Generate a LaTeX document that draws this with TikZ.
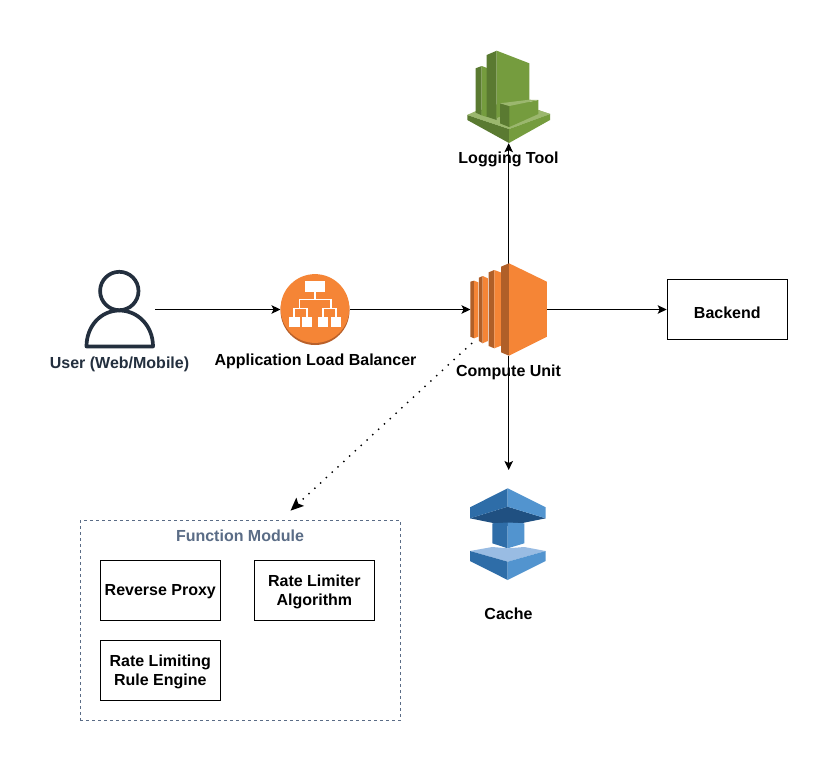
\documentclass[tikz,border=0pt]{standalone}
\usepackage{fontspec}
\setmainfont{Liberation Sans}
\usetikzlibrary{arrows.meta}
\definecolor{ink}{HTML}{232F3E}
\definecolor{slate}{HTML}{5A6C86}
\definecolor{orangeM}{HTML}{F58536}
\definecolor{orangeD}{HTML}{B05F28}
\definecolor{orangeS}{HTML}{B9602A}
\definecolor{greenM}{HTML}{759C3E}
\definecolor{greenD}{HTML}{4B612C}
\definecolor{greenS}{HTML}{5A7A31}
\definecolor{greenL}{HTML}{9BB76E}
\definecolor{greenB}{HTML}{86A853}
\definecolor{blueL}{HTML}{2E6DA8}
\definecolor{blueR}{HTML}{5294CF}
\definecolor{blueD}{HTML}{205081}
\definecolor{blueT}{HTML}{99BCE3}
\newcommand{\firstline}{\rule{0pt}{14.6pt}}
\tikzset{
  x=1pt,y=-1pt,
  conn/.style={draw=black,line width=1.2pt,-{Stealth[length=9pt,width=8.5pt,inset=2pt]}},
  dots/.style={draw=black,line width=2pt,line cap=round,dash pattern=on 0pt off 7.9pt,
    -{Stealth[length=13pt,width=11pt,inset=2.5pt]}},
  iconbox/.style={inner sep=0pt,outer sep=0pt,draw=none},
  lbl/.style={font=\bfseries\fontsize{16}{19.5}\selectfont,text=black,inner sep=0pt,text height=11.6pt,text depth=3.4pt},
  boxed/.style={draw=black,line width=1.2pt,fill=white,minimum width=120pt,minimum height=60pt,inner sep=0pt,
    align=center,font=\bfseries\fontsize{16}{19.5}\selectfont},
  modulebox/.style={draw=slate,line width=1.1pt,dash pattern=on 3pt off 3pt,minimum width=320.4pt,minimum height=199.6pt,inner sep=0pt},
}
\begin{document}
\begin{tikzpicture}
\useasboundingbox (0,0) rectangle (838,771);
\fill[white] (0,0) rectangle (838,771);

% invisible anchors of the icons
\node[iconbox,minimum width=70pt,minimum height=10pt] (user) at (120,309.5) {};
\node[iconbox,minimum width=69pt,minimum height=10pt] (alb) at (315,309.5) {};
\node[iconbox,minimum width=76.4pt,minimum height=92pt] (compute) at (508.7,309.5) {};
\node[iconbox,minimum width=83pt,minimum height=93pt] (logging) at (508.7,96.7) {};
\node[iconbox,minimum width=76pt,minimum height=92pt] (cache) at (508.7,534) {};
\node[boxed] (backend) at (727.3,309.5) {};
\coordinate (dotstart) at (471.5,343.5);
\coordinate (dotend) at (290.5,510.7);

% connectors (under the icons)
\draw[conn] (user.east) -- (alb.west);
\draw[conn] (alb.east) -- (compute.west);
\draw[conn] (compute.east) -- (backend.west);
\draw[conn] (compute.north) -- (logging.south);
\draw[conn,shorten >=18pt] (compute.south) -- (cache.north);
\draw[dots] (dotstart) -- (dotend);

% user icon
\draw[ink,line width=3.7pt] (119.3,291) circle [radius=19.2pt];
\draw[ink,line width=3.7pt,line join=round] (86.5,346.5) .. controls (86.5,326) and (101,310.5) .. (119.3,310.5)
  .. controls (138,310.5) and (153,326) .. (153,346.5) -- cycle;

% load balancer icon
\fill[orangeS] (315,310.5) circle [radius=34.5pt];
\fill[orangeM] (315,308.5) circle [radius=34.4pt];
\fill[white] (305,280.7) rectangle (325,292.3);
\fill[white] (289,316.7) rectangle (299.6,326.7);
\fill[white] (301.7,316.7) rectangle (312.3,326.7);
\fill[white] (317.7,316.7) rectangle (328.3,326.7);
\fill[white] (330.7,316.7) rectangle (340.7,326.7);
\draw[white,line width=1.2pt] (315,292) -- (315,299.5) (299.3,308.5) -- (299.3,299.5) -- (331,299.5) -- (331,308.5)
  (294,316.7) -- (294,308.5) -- (307,308.5) -- (307,316.7) (323,316.7) -- (323,308.5) -- (336,308.5) -- (336,316.7);

% compute icon
\fill[orangeD] (470.3,281.7) -- (474,280.7) -- (474,338.3) -- (470.3,336.7) -- cycle;
\fill[orangeM] (474,280.7) -- (478.3,282.3) -- (478.3,336.7) -- (474,338.3) -- cycle;
\fill[orangeD] (478.9,277.7) -- (482.7,276) -- (482.7,343.3) -- (478.9,341) -- cycle;
\fill[orangeM] (482.7,276) -- (487.8,278.3) -- (487.8,341) -- (482.7,343.3) -- cycle;
\fill[orangeD] (488.7,272.3) -- (494.3,270) -- (494.3,348.3) -- (488.7,346) -- cycle;
\fill[orangeM] (494.3,270) -- (501,272.5) -- (501,345.7) -- (494.3,348.3) -- cycle;
\fill[orangeD] (501,266.7) -- (509,263.3) -- (509,355.7) -- (501,352.3) -- cycle;
\fill[orangeM] (509,263.3) -- (546.9,281.7) -- (546.9,336.7) -- (509,355.7) -- cycle;

% logging icon
\fill[greenB] (467.3,115) -- (509,129) -- (550,114) -- (509,100) -- cycle;
\fill[greenS] (467.3,115) -- (509,129) -- (509,143) -- (467.3,120) -- cycle;
\fill[greenM] (509,129) -- (550,114) -- (550,120) -- (509,143) -- cycle;
\fill[greenL] (467.3,115) -- (509,129) -- (550,114) -- (538.3,110) -- (509,120) -- (478,110) -- cycle;
\fill[greenS] (475.7,68.3) -- (481.7,66) -- (481.7,115.3) -- (475.7,112.7) -- cycle;
\fill[greenM] (481.7,66) -- (487,68) -- (487,117) -- (481.7,115.3) -- cycle;
\fill[greenS] (486.7,55) -- (496.7,50.7) -- (496.7,120) -- (486.7,116.7) -- cycle;
\fill[greenM] (496.7,50.7) -- (529.3,63.3) -- (529.3,104) -- (496.7,118) -- cycle;
\fill[greenM] (500,103.3) -- (509.3,106) -- (538.3,100) -- (538.3,114) -- (509.3,127) -- (500,123.3) -- cycle;
\fill[greenS] (500,103.3) -- (509.3,106) -- (509.3,127) -- (500,123.3) -- cycle;
\fill[greenL] (500,103.3) -- (529.3,99.7) -- (538.3,100) -- (509.3,106) -- cycle;

% cache icon
\fill[blueD] (470,518.3) -- (507.7,506.7) -- (545.7,518.3) -- (507.7,526) -- cycle;
\fill[blueL] (507.7,488.3) -- (470,507.3) -- (470,518.3) -- (507.7,506.7) -- cycle;
\fill[blueR] (507.7,488.3) -- (545.7,507.3) -- (545.7,518.3) -- (507.7,506.7) -- cycle;
\fill[blueL] (492.3,523.3) -- (507.7,522.5) -- (507.7,548.3) -- (492.3,543.3) -- cycle;
\fill[blueR] (507.7,522.5) -- (524.3,523.3) -- (524.3,543.3) -- (507.7,548.3) -- cycle;
\fill[blueT] (470,551) -- (492.3,547) -- (507.7,548.3) -- (524.3,547) -- (545.7,551) -- (507.7,561.7) -- cycle;
\fill[blueL] (470,551) -- (507.7,561.7) -- (507.7,580) -- (470,561) -- cycle;
\fill[blueR] (545.7,551) -- (507.7,561.7) -- (507.7,580) -- (545.7,561) -- cycle;

% labels
\node[lbl,text=ink] (userlabel) at (119.5,364.6) {User (Web/Mobile)};
\node[lbl] (alblabel) at (315.5,361.6) {Application Load Balancer};
\node[lbl] (computelabel) at (508.5,372.6) {Compute Unit};
\node[lbl] (logginglabel) at (508.5,159.6) {Logging Tool};
\node[lbl] (cachelabel) at (508.5,615.6) {Cache};
\node[lbl] (backendlabel) at (727.3,314.6) {Backend};

% function module
\node[modulebox] (module) at (240.5,620.5) {};
\node[lbl,text=slate] (moduletitle) at (240,537.6) {Function Module};
\node[boxed] (proxy) at (160.3,590.3) {\firstline Reverse Proxy};
\node[boxed] (limiter) at (314.3,590.3) {\firstline Rate Limiter\\Algorithm};
\node[boxed] (rules) at (160.3,670.3) {\firstline Rate Limiting\\Rule Engine};
\end{tikzpicture}
\end{document}
